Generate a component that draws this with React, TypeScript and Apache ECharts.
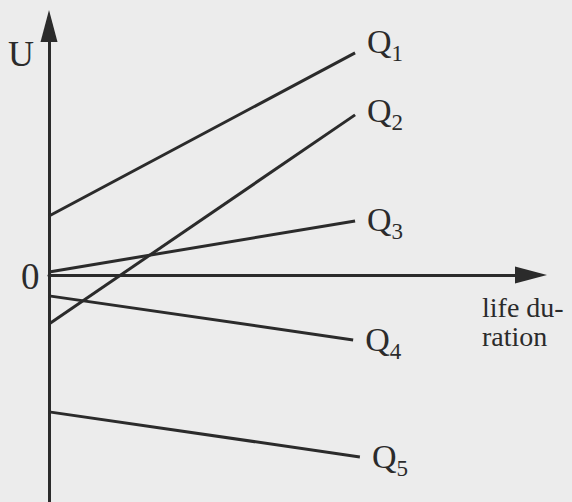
import React, { useEffect, useRef } from "react";
import * as echarts from "echarts";

const lineNames = ["1", "2", "3", "4", "5"];
const startX = [0, 0, 0, 0, 0];
const endX = [63.5, 63.5, 63.5, 63.1, 64.5];
const startU = [2.37, -1.97, 0.12, -0.84, -5.5];
const endU = [8.92, 6.43, 2.17, -2.61, -7.31];

const SERIF = "'Liberation Serif', 'Times New Roman', serif";
const INK = "#2b2b2b";
const labelShift = [-11, -4, -1, 0, 0];

export default function App() {
  const ref = useRef<HTMLDivElement>(null);
  useEffect(() => {
    if (!ref.current) return;
    const chart = echarts.init(ref.current, undefined, { renderer: "svg" });
    const series = lineNames.map((n, i) => ({
      type: "line",
      name: "Q" + n,
      data: [
        [startX[i], startU[i]],
        [endX[i], endU[i]],
      ],
      symbol: "none",
      lineStyle: { color: INK, width: 3 },
      endLabel: {
        show: true,
        formatter: "{q|Q}{s|" + n + "}",
        distance: 12,
        offset: [0, labelShift[i]],
        rich: {
          q: { fontFamily: SERIF, fontSize: 34, color: INK, lineHeight: 34, verticalAlign: "top" },
          s: { fontFamily: SERIF, fontSize: 23, color: INK, lineHeight: 23, verticalAlign: "top", padding: [17, 0, 0, 0] },
        },
      },
    }));
    chart.setOption({
      animation: false,
      backgroundColor: "#ececec",
      grid: { left: 49, right: 41, top: 26, bottom: 0, containLabel: false },
      xAxis: {
        type: "value",
        min: 0,
        max: 100,
        axisLine: {
          onZero: true,
          symbol: ["none", "triangle"],
          symbolSize: [17, 32],
          lineStyle: { color: INK, width: 3 },
        },
        axisTick: { show: false },
        axisLabel: { show: false },
        splitLine: { show: false },
      },
      yAxis: {
        type: "value",
        min: -9.12,
        max: 10,
        axisLine: {
          show: true,
          onZero: false,
          symbol: ["none", "triangle"],
          symbolSize: [17, 32],
          lineStyle: { color: INK, width: 3 },
        },
        axisTick: { show: false },
        axisLabel: { show: false },
        splitLine: { show: false },
      },
      graphic: [
        {
          type: "text",
          left: 8,
          top: 36,
          style: { text: "U", fontFamily: SERIF, fontSize: 36, fill: INK },
        },
        {
          type: "text",
          left: 21,
          top: 258,
          style: { text: "0", fontFamily: SERIF, fontSize: 37, fill: INK },
        },
        {
          type: "text",
          left: 482,
          top: 293,
          style: { text: "life du-", fontFamily: SERIF, fontSize: 28, lineHeight: 28, fill: INK },
        },
        {
          type: "text",
          left: 482,
          top: 322,
          style: { text: "ration", fontFamily: SERIF, fontSize: 28, lineHeight: 28, fill: INK },
        },
      ],
      series,
    });
    return () => chart.dispose();
  }, []);
  return (
    <div
      ref={ref}
      style={{ position: "absolute", left: 0, top: 0, width: 572, height: 502 }}
    />
  );
}
